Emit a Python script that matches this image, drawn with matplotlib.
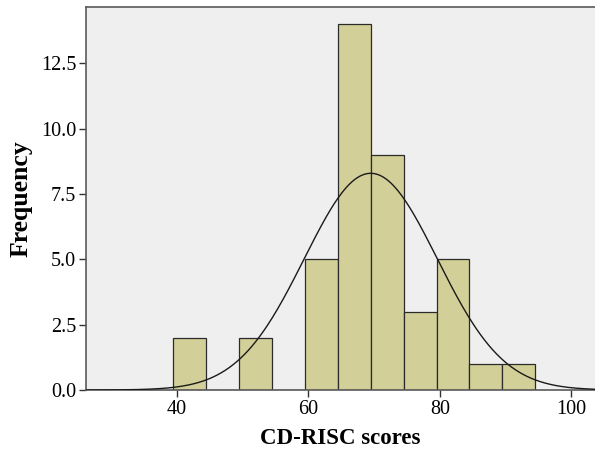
import numpy as np
import matplotlib.pyplot as plt

# histogram of CD-RISC scores, bins of width 5
bin_edges = [39.5, 44.5, 49.5, 54.5, 59.5, 64.5, 69.5, 74.5, 79.5, 84.5, 89.5, 94.5]
counts = [2, 0, 2, 0, 5, 14, 9, 3, 5, 1, 1]

# normal curve parameters
mean_score = 69.5
sd_score = 10.1
n_total = sum(counts)
bin_width = 5

xticks = [40, 60, 80, 100]
yticks = [0.0, 2.5, 5.0, 7.5, 10.0, 12.5]

plt.rcParams['font.family'] = ['Liberation Serif', 'DejaVu Serif']

fig = plt.figure(figsize=(5.95, 4.58), dpi=100)
ax = fig.add_axes([0.1445, 0.1485, 0.8555, 0.8362])
ax.set_facecolor('#efefef')

lefts = np.array(bin_edges[:-1])
widths = np.diff(bin_edges)
ax.bar(lefts, counts, width=widths, align='edge', color='#d3cf98',
       edgecolor='#2b2b2b', linewidth=0.9, zorder=2)

xs = np.linspace(26, 104, 400)
ys = n_total * bin_width / (sd_score * np.sqrt(2 * np.pi)) * np.exp(-0.5 * ((xs - mean_score) / sd_score) ** 2)
ax.plot(xs, ys, color='#1a1a1a', linewidth=1.0, zorder=3)

ax.set_xlim(26.2, 103.6)
ax.set_ylim(0, 14.66)
ax.set_xticks(xticks)
ax.set_yticks(yticks)
ax.set_yticklabels(['%.1f' % v for v in yticks])

for side in ['left', 'bottom', 'top']:
    ax.spines[side].set_color('#5a5a5a')
    ax.spines[side].set_linewidth(1.2)
ax.spines['right'].set_visible(False)

ax.tick_params(axis='both', labelsize=14.5, length=5, width=1, color='#333333', pad=2)

ax.set_xlabel('CD-RISC scores', fontsize=16.5, fontweight='bold', labelpad=7)
ax.set_ylabel('Frequency', fontsize=18.5, fontweight='bold', labelpad=6)

fig.savefig('out.png', dpi=100)
